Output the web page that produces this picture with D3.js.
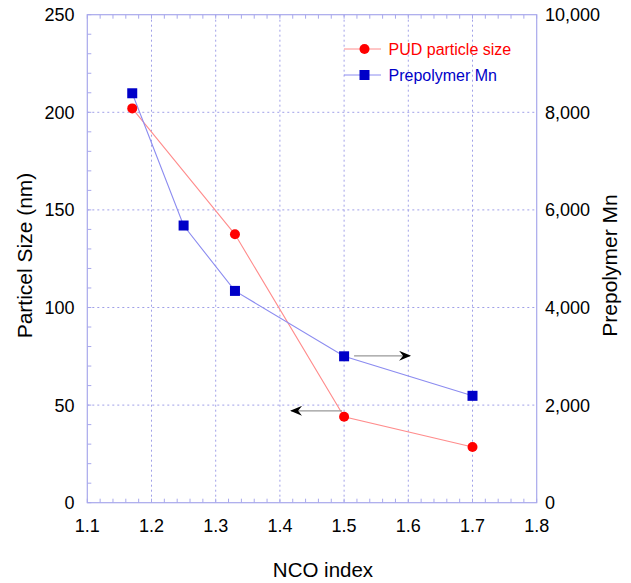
<!DOCTYPE html>
<html>
<head>
<meta charset="utf-8">
<script src="https://cdn.jsdelivr.net/npm/d3@7"></script>
<style>
  html, body { margin: 0; padding: 0; background: #fff; }
  svg { display: block; font-family: "Liberation Sans", Arial, sans-serif; }
</style>
</head>
<body>
<svg id="chart" width="631" height="583"></svg>
<script>
// ---- data ----
const particleX = [1.17, 1.33, 1.5, 1.7];
const particleSize = [202, 137.5, 44, 28.5];
const mnX = [1.17, 1.25, 1.33, 1.5, 1.7];
const prepolymerMn = [8390, 5680, 4340, 3000, 2190];
const xTicks = [1.1, 1.2, 1.3, 1.4, 1.5, 1.6, 1.7, 1.8];
const yLeftTicks = [0, 50, 100, 150, 200, 250];
const yRightTicks = [0, 2000, 4000, 6000, 8000, 10000];
const seriesNames = ["PUD particle size", "Prepolymer Mn"];

// ---- layout ----
const L = 87.3, R = 536.7, T = 14.7, B = 502.7;
const svg = d3.select("#chart");
const x = d3.scaleLinear().domain([1.1, 1.8]).range([L, R]);
const yL = d3.scaleLinear().domain([0, 250]).range([B, T]);
const yR = d3.scaleLinear().domain([0, 10000]).range([B, T]);

const axisCol = "#a8a8ec";
const gridCol = "#a0a0e8";
const redLine = "#ff8c8c", red = "#ff0000";
const blueLine = "#8c8cf0", blue = "#0000c8";

// grid
const g = svg.append("g");
g.selectAll(".vg").data(xTicks.slice(1, -1)).enter().append("line")
  .attr("x1", d => x(d)).attr("x2", d => x(d)).attr("y1", T).attr("y2", B)
  .attr("stroke", gridCol).attr("stroke-width", 1).attr("stroke-dasharray", "2,3");
g.selectAll(".hg").data(yLeftTicks.slice(1, -1)).enter().append("line")
  .attr("y1", d => yL(d)).attr("y2", d => yL(d)).attr("x1", L).attr("x2", R)
  .attr("stroke", gridCol).attr("stroke-width", 1).attr("stroke-dasharray", "2,3");

// minor ticks
const xMinor = d3.range(1.1, 1.8001, 0.02);
const yMinor = d3.range(0, 250.001, 10);
const ax = svg.append("g");
ax.selectAll(".xb").data(xMinor).enter().append("line")
  .attr("x1", d => x(d)).attr("x2", d => x(d)).attr("y1", B).attr("y2", B - 4)
  .attr("stroke", axisCol);
ax.selectAll(".xt").data(xMinor).enter().append("line")
  .attr("x1", d => x(d)).attr("x2", d => x(d)).attr("y1", T).attr("y2", T + 4)
  .attr("stroke", axisCol);
ax.selectAll(".yl").data(yMinor).enter().append("line")
  .attr("y1", d => yL(d)).attr("y2", d => yL(d)).attr("x1", L).attr("x2", L + 4)
  .attr("stroke", axisCol);

// frame
ax.append("rect").attr("x", L).attr("y", T).attr("width", R - L).attr("height", B - T)
  .attr("fill", "none").attr("stroke", axisCol).attr("stroke-width", 1.2);

// tick labels
const fmtX = d3.format(".1f");
svg.selectAll(".xl").data(xTicks).enter().append("text")
  .attr("x", d => x(d)).attr("y", 532).attr("text-anchor", "middle")
  .attr("font-size", 18).attr("fill", "#000").text(d => fmtX(d));
svg.selectAll(".yll").data(yLeftTicks).enter().append("text")
  .attr("x", 74.5).attr("y", d => yL(d) + 6.5).attr("text-anchor", "end")
  .attr("font-size", 18).attr("fill", "#000").text(d => d);
const fmtR = d3.format(",");
svg.selectAll(".yrl").data(yRightTicks).enter().append("text")
  .attr("x", 545).attr("y", d => yR(d) + 6.5).attr("text-anchor", "start")
  .attr("font-size", 18).attr("fill", "#000").text(d => fmtR(d));

// axis titles
svg.append("text").attr("x", 323).attr("y", 576.5).attr("text-anchor", "middle")
  .attr("font-size", 20.5).text("NCO index");
svg.append("text").attr("transform", "translate(32,255.5) rotate(-90)")
  .attr("text-anchor", "middle").attr("font-size", 21).text("Particel Size (nm)");
svg.append("text").attr("transform", "translate(617,265.5) rotate(-90)")
  .attr("text-anchor", "middle").attr("font-size", 21).text("Prepolymer Mn");

// series lines
const pData = particleX.map((d, i) => [d, particleSize[i]]);
const mData = mnX.map((d, i) => [d, prepolymerMn[i]]);
svg.append("path").datum(pData)
  .attr("d", d3.line().x(d => x(d[0])).y(d => yL(d[1])))
  .attr("fill", "none").attr("stroke", redLine).attr("stroke-width", 1.1);
svg.append("path").datum(mData)
  .attr("d", d3.line().x(d => x(d[0])).y(d => yR(d[1])))
  .attr("fill", "none").attr("stroke", blueLine).attr("stroke-width", 1.1);

// arrows
const defs = svg.append("defs");
defs.append("marker").attr("id", "ah").attr("viewBox", "0 0 12 10")
  .attr("refX", 11).attr("refY", 5).attr("markerWidth", 12).attr("markerHeight", 10)
  .attr("markerUnits", "userSpaceOnUse").attr("orient", "auto")
  .append("path").attr("d", "M0,0 L12,5 L0,10 L4,5 Z").attr("fill", "#000");
svg.append("line").attr("x1", x(1.5) + 10).attr("x2", x(1.5) + 66)
  .attr("y1", yR(3000) - 0.5).attr("y2", yR(3000) - 0.5)
  .attr("stroke", "#999").attr("stroke-width", 1.2).attr("marker-end", "url(#ah)");
svg.append("line").attr("x1", x(1.5) - 2).attr("x2", x(1.5) - 53)
  .attr("y1", yL(44) - 6).attr("y2", yL(44) - 6)
  .attr("stroke", "#999").attr("stroke-width", 1.2).attr("marker-end", "url(#ah)");

// markers
svg.selectAll(".pc").data(pData).enter().append("circle")
  .attr("cx", d => x(d[0])).attr("cy", d => yL(d[1])).attr("r", 5)
  .attr("fill", red);
svg.selectAll(".ms").data(mData).enter().append("rect")
  .attr("x", d => x(d[0]) - 5).attr("y", d => yR(d[1]) - 5)
  .attr("width", 10).attr("height", 10).attr("fill", blue);

// legend
const leg = svg.append("g");
leg.append("line").attr("x1", 344).attr("x2", 381).attr("y1", 49).attr("y2", 49)
  .attr("stroke", redLine);
leg.append("circle").attr("cx", 364.5).attr("cy", 49).attr("r", 5).attr("fill", red);
leg.append("text").attr("x", 388.5).attr("y", 54.5).attr("font-size", 16)
  .attr("fill", red).text(seriesNames[0]);
leg.append("line").attr("x1", 344).attr("x2", 381).attr("y1", 75).attr("y2", 75)
  .attr("stroke", blueLine);
leg.append("rect").attr("x", 359.5).attr("y", 70).attr("width", 10).attr("height", 10)
  .attr("fill", blue);
leg.append("text").attr("x", 388.5).attr("y", 80.5).attr("font-size", 16)
  .attr("fill", blue).text(seriesNames[1]);
</script>
</body>
</html>
